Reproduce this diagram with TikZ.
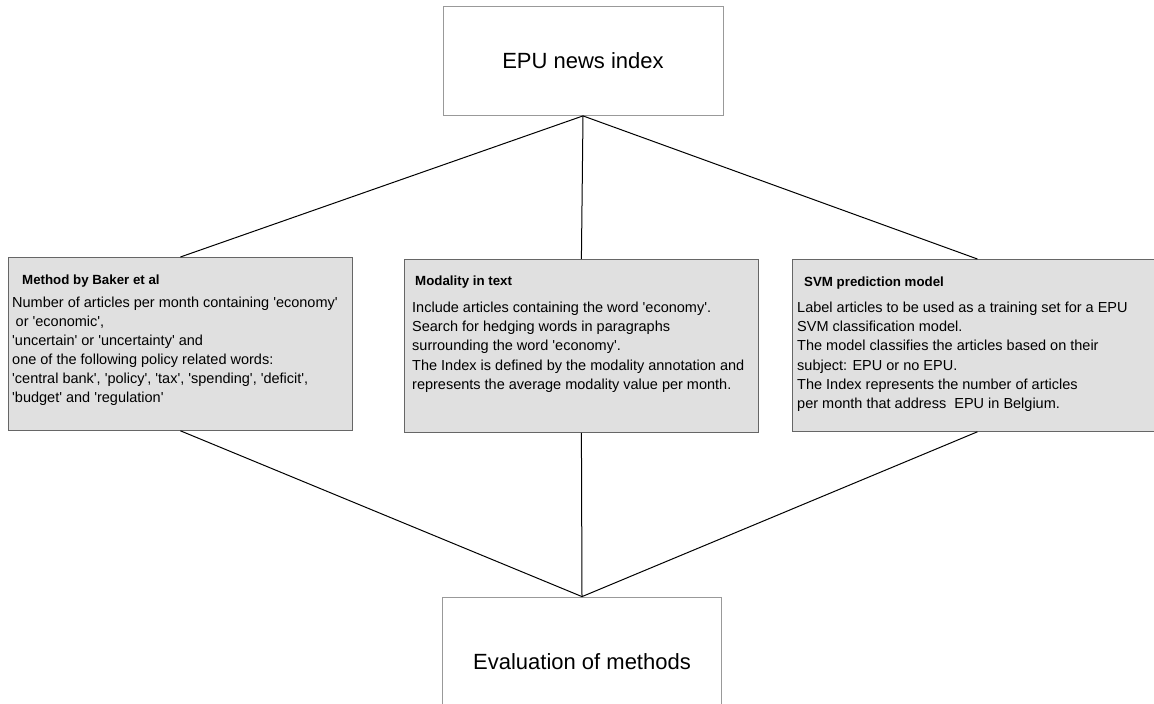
\documentclass[tikz,border=0pt]{standalone}
\usepackage{fontspec}
\setmainfont{Liberation Sans}
\usetikzlibrary{positioning,calc}
\newcommand{\tq}{\textquotesingle}

\begin{document}
\begin{tikzpicture}[x=1pt,y=-1pt,
    endbox/.style={rectangle,draw=black!40,line width=0.8pt,font=\fontsize{22}{26}\selectfont},
    methodbox/.style={rectangle,draw=black!60,fill=black!12,line width=0.8pt,anchor=north west,inner sep=0pt},
    boxtitle/.style={anchor=north west,inner sep=0pt,font=\bfseries\fontsize{13.3}{16}\selectfont},
    boxtext/.style={anchor=north west,inner sep=0pt,align=left,font=\fontsize{14.5}{19.1}\selectfont},
    link/.style={draw=black,line width=1pt}]
    \useasboundingbox (0,0) rectangle (1154,704);

    % start and end of the flow
    \node[endbox,minimum width=280pt,minimum height=109pt] (epu) at (583,61) {EPU news index};
    \node[endbox,minimum width=279pt,minimum height=130pt] (eval) at (582,662) {Evaluation of methods};

    % the three methods
    \node[methodbox,minimum width=344pt,minimum height=173pt] (baker) at (8,257) {};
    \node[methodbox,minimum width=354pt,minimum height=173pt] (modality) at (404,259) {};
    \node[methodbox,minimum width=370pt,minimum height=172pt] (svm) at (792,259) {};

    \node[boxtitle] (bakertitle) at (22,274.5) {Method by Baker et al};
    \node[boxtext] (bakertext) at (12,296.5) {Number of articles per month containing \tq{}economy\tq\\
        \hspace{3.5pt}or \tq{}economic\tq,\\
        \tq{}uncertain\tq{} or \tq{}uncertainty\tq{} and\\
        one of the following policy related words:\\
        \tq{}central bank\tq, \tq{}policy\tq, \tq{}tax\tq, \tq{}spending\tq, \tq{}deficit\tq,\\
        \tq{}budget\tq{} and \tq{}regulation\tq};

    \node[boxtitle] (modalitytitle) at (415,275.5) {Modality in text};
    \node[boxtext] (modalitytext) at (412,302) {Include articles containing the word \tq{}economy\tq.\\
        Search for hedging words in paragraphs\\
        surrounding the word \tq{}economy\tq.\\
        The Index is defined by the modality annotation and\\
        represents the average modality value per month.};

    \node[boxtitle] (svmtitle) at (804,276.5) {SVM prediction model};
    \node[boxtext] (svmtext) at (797,302) {Label articles to be used as a training set for a EPU\\
        SVM classification model.\\
        The model classifies the articles based on their\\
        subject: EPU or no EPU.\\
        The Index represents the number of articles\\
        per month that address \ EPU in Belgium.};

    % connectors
    \foreach \m in {baker,modality,svm} {
        \draw[link] (epu.south) -- (\m.north);
        \draw[link] (\m.south) -- (eval.north);
    }
\end{tikzpicture}
\end{document}
